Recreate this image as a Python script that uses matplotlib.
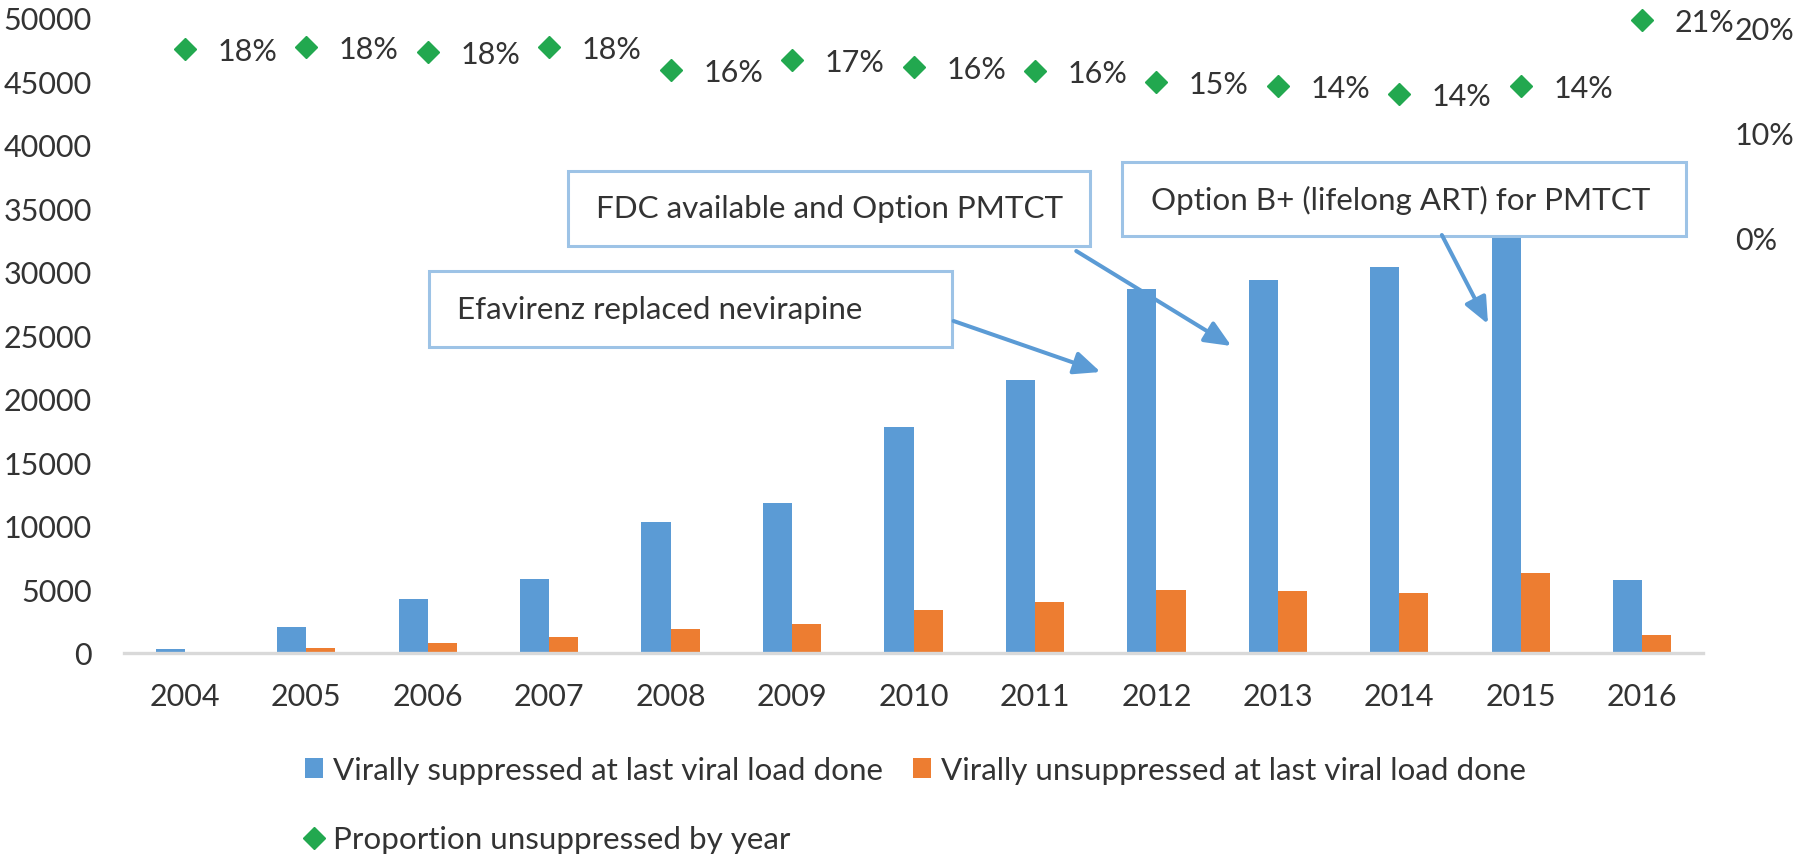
import matplotlib
matplotlib.use("Agg")
import matplotlib.pyplot as plt
from matplotlib.patches import Rectangle, Patch
from matplotlib.lines import Line2D
from matplotlib.ticker import FuncFormatter

# ---------------- data ----------------
years = ["2004", "2005", "2006", "2007", "2008", "2009", "2010",
         "2011", "2012", "2013", "2014", "2015", "2016"]
suppressed = [320, 2040, 4240, 5820, 10290, 11790, 17760,
              21460, 28690, 29400, 30380, 38500, 5740]
unsuppressed = [70, 390, 800, 1230, 1860, 2280, 3380,
                4010, 4950, 4870, 4720, 6290, 1410]
proportion = [0.179, 0.181, 0.176, 0.181, 0.159, 0.169, 0.162,
              0.158, 0.148, 0.144, 0.136, 0.144, 0.207]
left_ticks = [0, 5000, 10000, 15000, 20000, 25000, 30000, 35000, 40000, 45000, 50000]
right_ticks = [0.0, 0.1, 0.2]

series_names = ["Virally suppressed at last viral load done",
                "Virally unsuppressed at last viral load done",
                "Proportion unsuppressed by year"]

# annotation texts
note_texts = ["Efavirenz replaced nevirapine",
              "FDC available and Option PMTCT",
              "Option B+ (lifelong ART) for PMTCT"]

# ---------------- style ----------------
FONT = "Lato"
FS_NUM = 22
FS_TXT = 22.6
TXT = "#333333"
BLUE = "#5B9BD5"
ORANGE = "#ED7D31"
GREEN = "#22A84F"
BOX_EDGE = "#9DC3E6"
ARROW = "#5B9BD5"

plt.rcParams["font.family"] = [FONT, "DejaVu Sans"]

fig = plt.figure(figsize=(18, 8.62), dpi=100)
ax = fig.add_axes([124 / 1800, 1 - 654 / 862, (1703 - 124) / 1800, (654 - 19) / 862])

x = list(range(len(years)))
bw = 0.24
ax.bar([i - bw / 2 for i in x], suppressed, width=bw, color=BLUE, zorder=2)
ax.bar([i + bw / 2 for i in x], unsuppressed, width=bw, color=ORANGE, zorder=2)

ax.set_xlim(-0.5, 12.5)
ax.set_ylim(0, 50000)
ax.set_yticks(left_ticks)
ax.set_yticklabels([str(t) for t in left_ticks])
ax.set_xticks(x)
ax.set_xticklabels(years)
ax.tick_params(axis="both", length=0, labelsize=FS_NUM, colors=TXT)
ax.tick_params(axis="y", pad=23)
ax.tick_params(axis="x", pad=21)
for s in ["top", "right", "left"]:
    ax.spines[s].set_visible(False)
ax.spines["bottom"].set_color("#D9D9D9")
ax.spines["bottom"].set_linewidth(2.4)
ax.spines["bottom"].set_zorder(3)

# secondary axis
ax2 = ax.twinx()
ax2.set_ylim(-0.396, 0.2086)
ax2.set_yticks(right_ticks)
ax2.yaxis.set_major_formatter(FuncFormatter(lambda v, p: f"{round(v * 100)}%"))
ax2.tick_params(axis="y", length=0, labelsize=FS_NUM, colors=TXT, pad=23)
for s in ["top", "right", "left", "bottom"]:
    ax2.spines[s].set_visible(False)
ax2.plot(x, proportion, linestyle="none", marker="D", markersize=11,
         color=GREEN, clip_on=False, zorder=4)
for xi, v in zip(x, proportion):
    ax2.annotate(f"{round(v * 100)}%", xy=(xi, v), xytext=(23.5, -1.5),
                 textcoords="offset points", ha="left", va="center",
                 fontsize=FS_NUM, color=TXT, annotation_clip=False)

# annotation boxes (data coords: x0, x1, y0, y1), arrows (start, tip)
boxes = [(2.008, 6.313, 24094, 30079),
         (3.152, 7.457, 32047, 37953),
         (7.720, 12.362, 32835, 38661)]
arrows = [((6.33, 26142), (7.54, 22126)),
          ((7.34, 31653), (8.617, 24173)),
          ((10.35, 32913), (10.73, 25905))]
pad_x = 0.235
for (x0, x1, y0, y1), txt in zip(boxes, note_texts):
    ax.add_patch(Rectangle((x0, y0), x1 - x0, y1 - y0, facecolor="white",
                           edgecolor=BOX_EDGE, linewidth=2.2, zorder=5, clip_on=False))
    ax.text(x0 + pad_x, (y0 + y1) / 2, txt, ha="left", va="center",
            fontsize=FS_TXT, color=TXT, zorder=6)
for start, tip in arrows:
    ax.annotate("", xy=tip, xytext=start,
                arrowprops=dict(arrowstyle="-|>,head_length=0.8,head_width=0.35",
                                mutation_scale=20, color=ARROW, lw=2.9,
                                shrinkA=0, shrinkB=0),
                zorder=7, annotation_clip=False)

# legend
handles = [Patch(facecolor=BLUE, edgecolor="none"),
           Line2D([], [], linestyle="none", marker="D", markersize=11, color=GREEN),
           Patch(facecolor=ORANGE, edgecolor="none")]
labels = [series_names[0], series_names[2], series_names[1]]
fig.legend(handles, labels, ncol=2, loc="upper left",
           bbox_to_anchor=(305 / 1800, 1 - 757 / 862), frameon=False,
           fontsize=FS_TXT, labelcolor=TXT, handlelength=0.58, handleheight=0.58,
           handletextpad=0.32, columnspacing=0.95, labelspacing=1.32,
           borderpad=0, borderaxespad=0)

fig.savefig("out.png", dpi=100)
